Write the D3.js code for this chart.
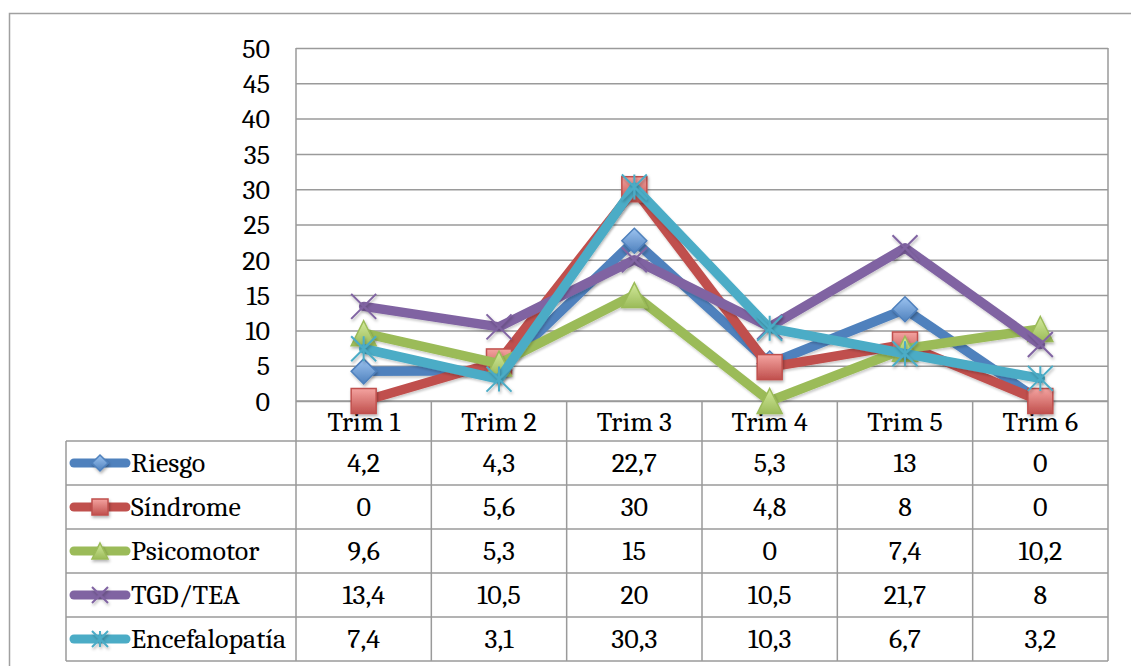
<!DOCTYPE html>
<html><head><meta charset="utf-8">
<script src="https://cdn.jsdelivr.net/npm/d3@7"></script>
<style>
html,body{margin:0;padding:0;background:#fff;}
svg{display:block;}
</style></head>
<body><svg id="c" width="1131" height="666"></svg>
<script>
const categories = ["Trim 1","Trim 2","Trim 3","Trim 4","Trim 5","Trim 6"];
const seriesNames = ["Riesgo","Síndrome","Psicomotor","TGD/TEA","Encefalopatía"];
const riesgo = [4.2,4.3,22.7,5.3,13,0];
const sindrome = [0,5.6,30,4.8,8,0];
const psicomotor = [9.6,5.3,15,0,7.4,10.2];
const tgd = [13.4,10.5,20,10.5,21.7,8];
const encefalopatia = [7.4,3.1,30.3,10.3,6.7,3.2];
const yTicks = [0,5,10,15,20,25,30,35,40,45,50];

const seriesValues = [riesgo,sindrome,psicomotor,tgd,encefalopatia];
const colors = ["#4F81BD","#C0504D","#9BBB59","#8064A2","#4BACC6"];
const lights = ["#9CC3F0","#F4A3A0","#D3EA9C","#B9A3D6","#93D9EA"];
const markers = ["diamond","square","triangle","x","star"];

const FONT = '"Cambria","Caladea","Liberation Serif",serif';
const FS = 28;

const svg = d3.select("#c");
const L=296,R=1108,T=48,B=401;
const rowH=44, tableLeft=66, headerBottom=441;
const fmt = v => String(v).replace(".",",");

const x = d3.scaleBand().domain(categories).range([L,R]).padding(0);
const y = d3.scaleLinear().domain([0,50]).range([B,T]);

const defs = svg.append("defs");
colors.forEach((c,i)=>{
  const g = defs.append("linearGradient").attr("id","g"+i).attr("x1",0).attr("y1",0).attr("x2",0).attr("y2",1);
  g.append("stop").attr("offset","0%").attr("stop-color",lights[i]);
  g.append("stop").attr("offset","100%").attr("stop-color",c);
});
const f = defs.append("filter").attr("id","sh").attr("x","-50%").attr("y","-50%").attr("width","200%").attr("height","200%");
f.append("feDropShadow").attr("dx",1).attr("dy",2).attr("stdDeviation",1.5).attr("flood-color","#000").attr("flood-opacity",0.3);
const f2 = defs.append("filter").attr("id","shl").attr("x","-10%").attr("y","-10%").attr("width","120%").attr("height","120%");
f2.append("feDropShadow").attr("dx",1).attr("dy",2).attr("stdDeviation",1.2).attr("flood-color","#000").attr("flood-opacity",0.2);

svg.append("rect").attr("x",9.5).attr("y",13.5).attr("width",1140).attr("height",680)
  .attr("fill","none").attr("stroke","#a0a0a0").attr("stroke-width",1.5);

const grid = svg.append("g").attr("transform",`translate(${L},0)`)
  .call(d3.axisLeft(y).tickValues(yTicks).tickSize(-(R-L)).tickFormat(""));
grid.select(".domain").remove();
grid.selectAll("line").attr("stroke","#9a9a9a").attr("stroke-width",1.5);

const ya = svg.append("g").attr("transform",`translate(270,0)`)
  .call(d3.axisLeft(y).tickValues(yTicks).tickSize(0).tickPadding(0));
ya.select(".domain").remove();
ya.selectAll("text").attr("font-size",FS).attr("fill","#000").style("font-family",FONT).attr("dy","0.33em");

const tl = svg.append("g").attr("stroke","#9a9a9a").attr("stroke-width",1.5);
const tableBottom = headerBottom + rowH*seriesNames.length;
[L].concat(categories.map(c=>x(c)+x.bandwidth())).forEach(xx=>{
  tl.append("line").attr("x1",xx).attr("x2",xx).attr("y1",(xx===L||xx===R)?T:B).attr("y2",tableBottom);
});
tl.append("line").attr("x1",tableLeft).attr("x2",tableLeft).attr("y1",headerBottom).attr("y2",tableBottom);
tl.append("line").attr("x1",L).attr("x2",R).attr("y1",B).attr("y2",B);
for(let r=0;r<=seriesNames.length;r++){
  const yy = headerBottom + r*rowH;
  tl.append("line").attr("x1",tableLeft).attr("x2",R).attr("y1",yy).attr("y2",yy);
}

const xa = svg.append("g").attr("transform",`translate(0,${(B+headerBottom)/2+1})`)
  .call(d3.axisBottom(x).tickSize(0).tickPadding(0));
xa.select(".domain").remove();
xa.selectAll("text").attr("font-size",FS).attr("fill","#000").style("font-family",FONT).attr("dy","0.33em");

seriesValues.forEach((vals,si)=>{
  const cy = headerBottom + rowH*si + rowH/2;
  svg.append("g").selectAll("text").data(vals).join("text")
    .attr("x",(d,i)=>x(categories[i])+x.bandwidth()/2).attr("y",cy).attr("dy","0.33em")
    .attr("text-anchor","middle").attr("font-size",FS).style("font-family",FONT).text(d=>fmt(d));
  svg.append("text").attr("x",131).attr("y",cy).attr("dy","0.33em").attr("font-size",FS).style("font-family",FONT).text(seriesNames[si]);
});

function drawMarker(g, type, cx, cy, s, i){
  const h=s/2;
  if(type==="diamond"){
    g.append("path").attr("d",`M${cx},${cy-h}L${cx+h},${cy}L${cx},${cy+h}L${cx-h},${cy}Z`)
      .attr("fill",`url(#g${i})`).attr("stroke",colors[i]).attr("stroke-width",1.5).attr("filter","url(#sh)");
  } else if(type==="square"){
    g.append("rect").attr("x",cx-h).attr("y",cy-h).attr("width",s).attr("height",s)
      .attr("fill",`url(#g${i})`).attr("stroke",colors[i]).attr("stroke-width",1.5).attr("filter","url(#sh)");
  } else if(type==="triangle"){
    g.append("path").attr("d",`M${cx},${cy-h}L${cx+h},${cy+h}L${cx-h},${cy+h}Z`)
      .attr("fill",`url(#g${i})`).attr("stroke",colors[i]).attr("stroke-width",1.5).attr("filter","url(#sh)");
  } else if(type==="x"){
    g.append("path").attr("d",`M${cx-h},${cy-h}L${cx+h},${cy+h}M${cx+h},${cy-h}L${cx-h},${cy+h}`)
      .attr("stroke",colors[i]).attr("stroke-width",2).attr("fill","none").attr("filter","url(#sh)");
  } else {
    g.append("path").attr("d",`M${cx-h},${cy-h}L${cx+h},${cy+h}M${cx+h},${cy-h}L${cx-h},${cy+h}M${cx},${cy-h}L${cx},${cy+h}`)
      .attr("stroke",colors[i]).attr("stroke-width",2).attr("fill","none").attr("filter","url(#sh)");
  }
}

const line = d3.line().x((d,i)=>x(categories[i])+x.bandwidth()/2).y(d=>y(d));
seriesValues.forEach((vals,si)=>{
  const g = svg.append("g");
  g.append("path").datum(vals).attr("d",line).attr("fill","none").attr("stroke",colors[si])
    .attr("stroke-width",9.5).attr("stroke-linejoin","round").attr("stroke-linecap","round").attr("filter","url(#shl)");
  vals.forEach((v,i)=>drawMarker(g, markers[si], x(categories[i])+x.bandwidth()/2, y(v), 25, si));
  const cy = headerBottom + rowH*si + rowH/2;
  g.append("line").attr("x1",74).attr("x2",126).attr("y1",cy).attr("y2",cy)
    .attr("stroke",colors[si]).attr("stroke-width",9).attr("stroke-linecap","round");
  drawMarker(g, markers[si], 100, cy, 16, si);
});
</script></body></html>
